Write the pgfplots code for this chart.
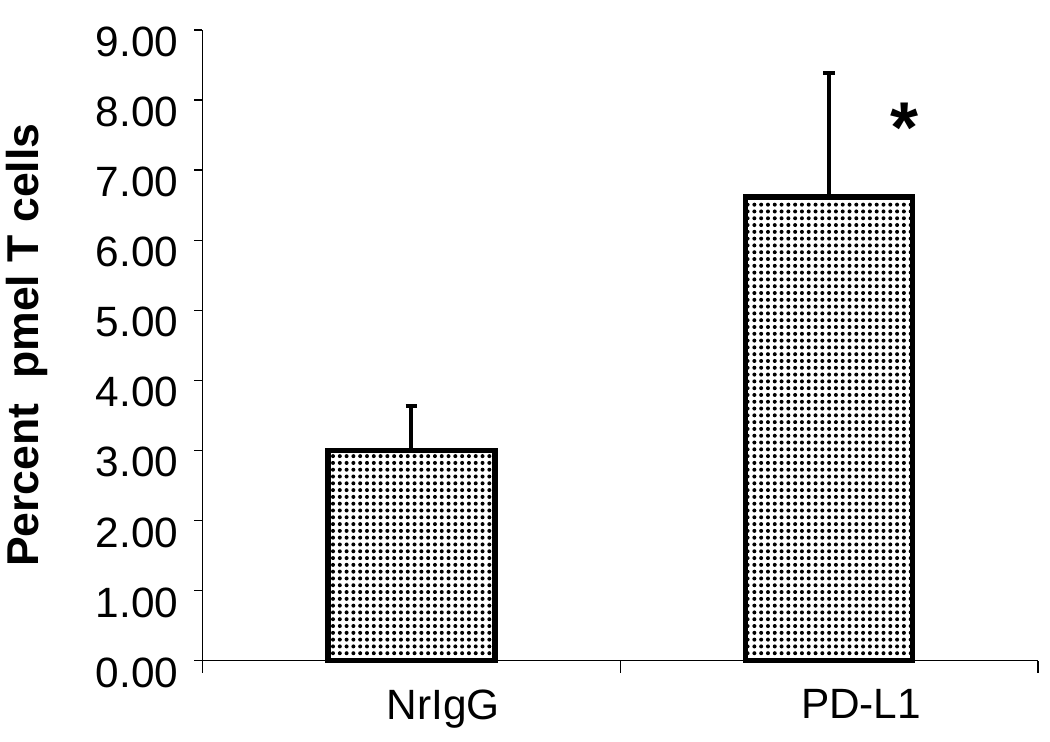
\documentclass[border=0pt]{standalone}
\usepackage{fontspec}
\setmainfont{Liberation Sans}
\usepackage{pgfplots}
\pgfplotsset{compat=1.18}
\usetikzlibrary{patterns.meta}

\begin{document}
\begin{tikzpicture}
\begin{axis}[
  scale only axis,
  width=418pt, height=315.5pt,
  xmin=0, xmax=2,
  ymin=0, ymax=9,
  axis x line=bottom, axis y line=left,
  axis line style={-, line width=0.6pt},
  xtick={0.5,1.5},
  xticklabels={NrIgG, PD-L1},
  major x tick style={draw=none},
  minor xtick={0,1,2},
  minor tick length=6pt,
  minor x tick style={line width=0.6pt, black},
  x tick label style={yshift=-7pt, xshift=16pt},
  ytick={0,1,...,9},
  y tick style={line width=0.6pt, black},
  tick align=outside,
  major tick length=4pt,
  yticklabel style={xshift=-4.5pt, yshift=-6pt, /pgf/number format/.cd, fixed, fixed zerofill, precision=2},
  /pgf/number format/assume math mode=true,
  tick label style={font=\fontsize{21.2}{22}\selectfont},
  ylabel={Percent\ \ pmel T cells},
  ylabel style={font=\fontsize{22.3}{24}\selectfont\bfseries, yshift=17pt},
  clip=false,
]
\path (rel axis cs:-0.2416,-0.1284) rectangle (rel axis cs:1.0144,1.0475);
\addplot[ybar, bar width=0.4, draw=black, line width=2.8pt,
  pattern={Dots[radius=1pt, distance=3.4pt]}, pattern color=black,
  error bars/.cd, y dir=plus, y explicit,
  error bar style={line width=2pt, black},
  error mark options={rotate=90, mark size=2.8pt, line width=2pt, black}]
  coordinates {
  (0.5,3.00) +- (0,0.64)
  (1.5,6.62) +- (0,1.77)
};
\node[font=\fontsize{36}{36}\selectfont\bfseries] at (axis cs:1.68,7.60) {*};
\end{axis}
\end{tikzpicture}
\end{document}
